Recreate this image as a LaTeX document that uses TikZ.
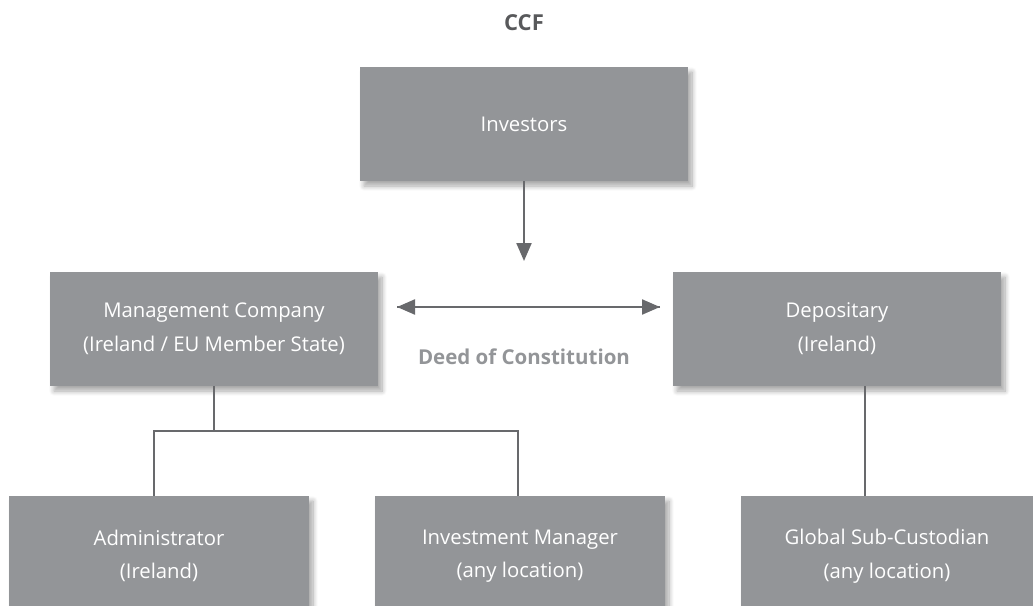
\documentclass[tikz,border=0pt]{standalone}
\usepackage{fontspec}
\setmainfont{Open Sans}
\usetikzlibrary{arrows.meta,shadows.blur}

\definecolor{boxgrey}{HTML}{939598}
\definecolor{linegrey}{HTML}{68696C}
\definecolor{titlegrey}{HTML}{58595B}

\tikzset{
  entity/.style={fill=boxgrey, text=white, align=center, inner sep=0pt,
    font=\fontsize{20.3}{33.5}\selectfont,
    blur shadow={shadow xshift=4pt, shadow yshift=-5pt, shadow blur steps=8, shadow blur radius=5pt, shadow opacity=35}},
  link/.style={draw=linegrey, line width=2.2pt},
  tip/.style={-{Triangle[length=18pt,width=15pt]}},
}

\begin{document}
\begin{tikzpicture}[x=1pt,y=-1pt]
   \useasboundingbox (0,0) rectangle (1033,605);

   \node (CCF) at (524,23) [font=\bfseries\fontsize{22}{26}\selectfont, text=titlegrey] {CCF};

   \node (Investors) at (524,124) [entity, minimum width=328pt, minimum height=114pt] {Investors};

   \node (ManCo) at (214,329) [entity, minimum width=328pt, minimum height=114pt, text depth=4pt] {Management Company\\(Ireland / EU Member State)};
   \node (Depositary) at (837,329) [entity, minimum width=328pt, minimum height=114pt, text depth=4pt] {Depositary\\(Ireland)};
   \node (Deed) at (524,357) [font=\bfseries\fontsize{20.5}{24}\selectfont, text=boxgrey] {Deed of Constitution};

   \node (Admin) at (159,556) [entity, minimum width=300pt, minimum height=120pt] {Administrator\\(Ireland)};
   \node (InvMan) at (520,556) [entity, minimum width=290pt, minimum height=120pt] {Investment Manager\\(any location)};
   \node (SubCust) at (887,556) [entity, minimum width=292pt, minimum height=120pt] {Global Sub-Custodian\\(any location)};

   \coordinate (Fund) at (524,261);
   \coordinate (DeedL) at (397,307);
   \coordinate (DeedR) at (660,307);
   \coordinate (Split) at (214,431);

   \draw [link, tip] (Investors.south) -- (Fund);
   \draw [link, tip] (DeedR) -- (DeedL);
   \draw [link, tip] (DeedL) -- (DeedR);

   \draw [link] (ManCo.south) -- (Split);
   \draw [link] ([xshift=-5pt]Admin.north) |- (Split) -| ([xshift=-2pt]InvMan.north);
   \draw [link] ([xshift=28pt]Depositary.south) -- ([xshift=-22pt]SubCust.north);

\end{tikzpicture}
\end{document}
